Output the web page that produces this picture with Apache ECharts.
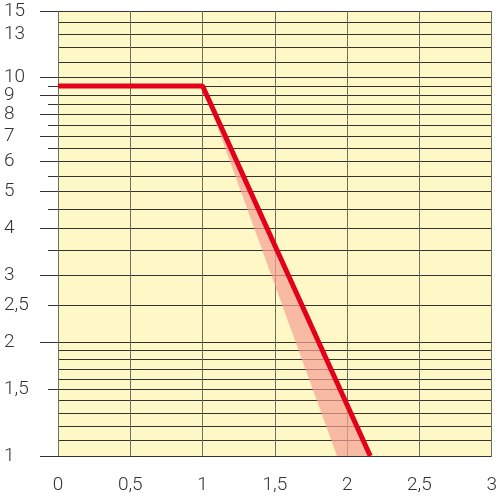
<!DOCTYPE html>
<html>
	<head>
		<meta charset="utf-8">
		<title>Log chart</title>
		<script src="https://cdn.jsdelivr.net/npm/echarts@6/dist/echarts.min.js"></script>
	</head>
	<body style="margin:0">
		<div id="main" style="width: 500px;height:500px;"></div>

		<script type="text/javascript">
			// values
			var lineData = [[0, 9.5], [1, 9.5], [2.16, 1]];
			var bandData = [[1, 9.5], [1.93, 1], [2.16, 1]];
			var yLabels = [1, 1.5, 2, 2.5, 3, 4, 5, 6, 7, 8, 9, 10, 13, 15];
			var longTicks = [1, 2, 3, 4, 5, 6, 7, 8, 9, 10, 15];
			var shortTicks = [1.5, 2.5, 3.5, 4.5, 5.5, 6.5, 7.5, 8.5, 9.5];
			var plainLines = [1.1, 1.2, 1.3, 1.4, 1.6, 1.7, 1.8, 1.9, 11, 12, 13, 14];

			var labelFont = { fontFamily: 'Roboto', fontWeight: 300, fontSize: 19, color: '#333' };

			function comma(v) {
				return String(v).replace('.', ',');
			}

			function logAxis(ticks, len, withLabels) {
				return {
					type: 'log',
					min: 1,
					max: 15,
					position: 'left',
					axisLine: { show: false },
					axisTick: {
						show: len > 0,
						length: len,
						customValues: ticks,
						lineStyle: { color: '#333', width: 1 }
					},
					axisLabel: Object.assign({
						show: withLabels,
						customValues: yLabels,
						align: 'left',
						margin: 54,
						formatter: comma
					}, labelFont),
					splitLine: { show: true, lineStyle: { color: '#333', width: 1 } }
				};
			}

			var myChart = echarts.init(document.getElementById('main'));
			var option = {
				animation: false,
				grid: {
					left: 58, right: 6, top: 11, bottom: 44,
					show: true,
					backgroundColor: '#fef7c6',
					borderWidth: 0
				},
				xAxis: {
					type: 'value',
					min: 0,
					max: 3,
					interval: 0.5,
					axisLine: { show: false },
					axisTick: { show: false },
					axisLabel: Object.assign({ margin: 20, formatter: comma }, labelFont),
					splitLine: { show: true, lineStyle: { color: '#6f6f60', width: 1 } }
				},
				yAxis: [
					logAxis(longTicks, 18, true),
					logAxis(shortTicks, 10, false),
					logAxis(plainLines, 0, false)
				],
				series: [
					{
						// pink band under the red line
						type: 'custom',
						z: 1,
						renderItem: function (params, api) {
							if (params.dataIndex !== 0) return;
							var pts = bandData.map(function (p) { return api.coord(p); });
							return {
								type: 'polygon',
								shape: { points: pts },
								style: { fill: 'rgba(246,160,150,0.7)' }
							};
						},
						data: bandData
					},
					{
						type: 'line',
						z: 3,
						data: lineData,
						symbol: 'none',
						lineStyle: { color: '#e2001a', width: 5 }
					}
				]
			};

			myChart.setOption(option);
		</script>
	</body>
</html>
